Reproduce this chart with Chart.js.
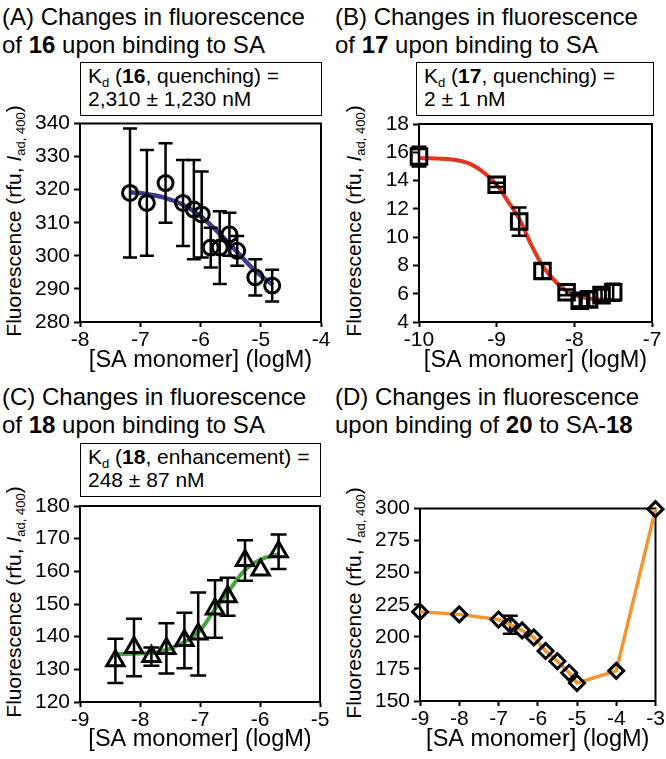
<!DOCTYPE html>
<html lang="en">
<head>
<meta charset="utf-8">
<title>Changes in fluorescence upon binding to SA</title>
<script src="https://cdn.jsdelivr.net/npm/chart.js@4.4.1/dist/chart.umd.min.js"></script>
<style>
    html, body { margin: 0; padding: 0; background: #fff; }
    body { width: 666px; height: 759px; position: relative; overflow: hidden; font-family: "Liberation Sans", Arial, sans-serif; color: #000; }
    .title { position: absolute; font-size: 24px; line-height: 28px; white-space: nowrap; }
    .kd { position: absolute; box-sizing: border-box; border: 1.5px solid #000; font-size: 21px; line-height: 23px; padding: 1px 0 0 7px; white-space: nowrap; }
    .kd sub { font-size: 13px; line-height: 0; vertical-align: -4px; }
    .ylab { position: absolute; font-size: 21px; line-height: 24px; white-space: nowrap; transform: translate(-50%, -50%) rotate(-90deg); }
    .ylab sub { font-size: 13px; line-height: 0; vertical-align: -4px; }
    canvas { position: absolute; }
</style>
</head>
<body>

<div class="title" style="left:2px;top:3px">(A) Changes in fluorescence<br>of <b>16</b> upon binding to SA</div>
<div class="title" style="left:335px;top:3px">(B) Changes in fluorescence<br>of <b>17</b> upon binding to SA</div>
<div class="title" style="left:2px;top:383px">(C) Changes in fluorescence<br>of <b>18</b> upon binding to SA</div>
<div class="title" style="left:335px;top:383px">(D) Changes in fluorescence<br>upon binding of <b>20</b> to SA-<b>18</b></div>

<div class="kd" style="left:80px;top:62px;width:242px;height:54px">K<sub>d</sub> (<b>16</b>, quenching) =<br>2,310 ± 1,230 nM</div>
<div class="kd" style="left:416px;top:62px;width:238px;height:54px">K<sub>d</sub> (<b>17</b>, quenching) =<br>2 ± 1 nM</div>
<div class="kd" style="left:80px;top:443px;width:241px;height:54px">K<sub>d</sub> (<b>18</b>, enhancement) =<br>248 ± 87 nM</div>

<div class="ylab" style="left:14px;top:221px">Fluorescence (rfu, <i>I</i><sub>ad, 400</sub>)</div>
<div class="ylab" style="left:354px;top:221px">Fluorescence (rfu, <i>I</i><sub>ad, 400</sub>)</div>
<div class="ylab" style="left:14px;top:602px">Fluorescence (rfu, <i>I</i><sub>ad, 400</sub>)</div>
<div class="ylab" style="left:354px;top:603px">Fluorescence (rfu, <i>I</i><sub>ad, 400</sub>)</div>

<canvas id="chartA" width="333" height="270" style="left:0;top:110px"></canvas>
<canvas id="chartB" width="333" height="270" style="left:333px;top:110px"></canvas>
<canvas id="chartC" width="333" height="269" style="left:0;top:490px"></canvas>
<canvas id="chartD" width="333" height="269" style="left:333px;top:490px"></canvas>

<script>
// Painel A: 16 (quenching)
const xA = [-7.17, -6.89, -6.58, -6.29, -6.11, -5.98, -5.83, -5.68, -5.52, -5.39, -5.09, -4.81];
const yA = [319, 316, 322, 316, 314, 312.5, 302.5, 302.5, 306.5, 301.5, 293.5, 291];
const errA = [19.5, 16, 12, 13, 15, 13, 6, 11, 6.5, 4.5, 5.5, 4.8];
const fitXA = [-7.17, -6.9, -6.6, -6.3, -6.0, -5.7, -5.4, -5.1, -4.8];
const fitYA = [319.2, 318.7, 317.6, 315.5, 312, 307, 301.3, 295.6, 291.2];
const ticksXA = [-8, -7, -6, -5, -4];
const ticksYA = [280, 290, 300, 310, 320, 330, 340];

// Painel B: 17 (quenching)
const xB = [-10, -9, -8.71, -8.41, -8.1, -7.93, -7.81, -7.65, -7.5];
const yB = [15.7, 13.7, 11.1, 7.6, 6.1, 5.5, 5.6, 5.9, 6.1];
const errB = [0.7, 0.15, 1.0, 0.5, 0.2, 0.4, 0.5, 0.4, 0.6];
const fitXB = [-10, -9.6, -9.35, -9.15, -9.0, -8.85, -8.7, -8.55, -8.4, -8.25, -8.1, -7.9, -7.7, -7.5];
const fitYB = [15.6, 15.5, 15.2, 14.5, 13.7, 12.5, 11.2, 9.4, 7.9, 6.9, 6.2, 5.75, 5.6, 5.55];
const ticksXB = [-10, -9, -8, -7];
const ticksYB = [4, 6, 8, 10, 12, 14, 16, 18];

// Painel C: 18 (enhancement)
const xC = [-8.41, -8.10, -7.81, -7.56, -7.26, -7.03, -6.75, -6.54, -6.25, -5.99, -5.69];
const yC = [132.6, 136.7, 133.9, 136.4, 138.8, 140.8, 148.5, 152.2, 163.3, 160.4, 166];
const errC = [6.8, 8.8, 2.8, 7.7, 8.5, 12.7, 8.8, 5.8, 6.2, 0, 5.3];
const fitXC = [-8.4, -7.8, -7.5, -7.2, -6.98, -6.76, -6.54, -6.26, -5.98, -5.68];
const fitYC = [134.7, 135, 136.3, 139, 142.3, 148.2, 153.5, 160.2, 163.7, 165.3];
const ticksXC = [-9, -8, -7, -6, -5];
const ticksYC = [120, 130, 140, 150, 160, 170, 180];

// Painel D: 20 binding to SA-18
const xD = [-9, -8, -7, -6.7, -6.4, -6.1, -5.8, -5.5, -5.2, -5, -4, -3];
const yD = [219.5, 217.5, 213.5, 209.5, 205, 199.5, 189, 181, 172, 164, 173.5, 299.5];
const errD = [0, 0, 0, 7, 0, 0, 0, 0, 0, 0, 0, 0];
const ticksXD = [-9, -8, -7, -6, -5, -4, -3];
const ticksYD = [150, 175, 200, 225, 250, 275, 300];

const FONT = '"Liberation Sans", Arial, sans-serif';
Chart.defaults.font.family = FONT;
Chart.defaults.color = '#000';

function toPoints(xs, ys) {
    return xs.map((x, i) => ({ x: x, y: ys[i] }));
}

// Barras de erro desenhadas antes dos marcadores
const errorBars = {
    id: 'errorBars',
    beforeDatasetDraw(chart, args) {
        const ds = chart.data.datasets[args.index];
        if (!ds.errs) return;
        const ctx = chart.ctx;
        const x = chart.scales.x, y = chart.scales.y;
        const w = ds.capHalf || 7;
        ctx.save();
        ctx.strokeStyle = '#000';
        ctx.lineWidth = 2.5;
        ds.data.forEach((p, i) => {
            const e = ds.errs[i];
            if (!e) return;
            const px = x.getPixelForValue(p.x);
            const top = y.getPixelForValue(p.y + e);
            const bot = y.getPixelForValue(p.y - e);
            ctx.beginPath();
            ctx.moveTo(px, top); ctx.lineTo(px, bot);
            ctx.moveTo(px - w, top); ctx.lineTo(px + w, top);
            ctx.moveTo(px - w, bot); ctx.lineTo(px + w, bot);
            ctx.stroke();
        });
        ctx.restore();
    }
};

// Moldura completa da area do grafico
const frame = {
    id: 'frame',
    beforeDatasetsDraw(chart) {
        const a = chart.chartArea;
        const ctx = chart.ctx;
        ctx.save();
        ctx.strokeStyle = '#000';
        ctx.lineWidth = 2;
        ctx.strokeRect(a.left, a.top, a.right - a.left, a.bottom - a.top);
        ctx.restore();
    }
};

function axis(ticks, horizontal, canvas, area, title) {
    const opts = {
        type: 'linear',
        min: ticks[0],
        max: ticks[ticks.length - 1],
        afterBuildTicks: s => { s.ticks = ticks.map(v => ({ value: v })); },
        grid: { display: true, drawOnChartArea: false, drawTicks: true, tickLength: horizontal ? 5 : 6, tickWidth: 2, tickColor: '#000' },
        border: { display: true, color: '#000', width: 2 },
        ticks: { font: { size: 21 }, color: '#000', padding: horizontal ? 1 : 4, maxRotation: 0, autoSkip: false }
    };
    if (horizontal) {
        opts.title = { display: true, text: title, font: { size: 23.5 }, color: '#000', padding: { top: 0, bottom: 5 } };
        opts.afterFit = s => {
            s.height = canvas.height - area.bottom;
            s.paddingLeft = 0; s.paddingRight = 0;
        };
    } else {
        opts.afterFit = s => {
            s.width = area.left;
            s.paddingTop = 0; s.paddingBottom = 0;
        };
    }
    return opts;
}

function makePanel(id, area, xTicks, yTicks, datasets) {
    const canvas = document.getElementById(id);
    return new Chart(canvas.getContext('2d'), {
        type: 'scatter',
        data: { datasets: datasets },
        options: {
            responsive: false,
            animation: false,
            events: [],
            layout: { padding: { left: 0, top: area.top, right: canvas.width - area.right, bottom: 0 } },
            plugins: { legend: { display: false }, tooltip: { enabled: false } },
            scales: {
                x: axis(xTicks, true, canvas, area, '[SA monomer] (logM)'),
                y: axis(yTicks, false, canvas, area)
            }
        },
        plugins: [frame, errorBars]
    });
}

function markers(xs, ys, errs, style, radius, capHalf) {
    return {
        data: toPoints(xs, ys),
        errs: errs,
        capHalf: capHalf,
        showLine: false,
        pointStyle: style,
        pointRadius: radius,
        pointBorderColor: '#000',
        pointBorderWidth: 3,
        pointBackgroundColor: 'rgba(0,0,0,0)',
        clip: false
    };
}

function fitCurve(xs, ys, color, width) {
    return {
        data: toPoints(xs, ys),
        showLine: true,
        borderColor: color,
        borderWidth: width,
        pointRadius: 0,
        cubicInterpolationMode: 'monotone',
        clip: false
    };
}

document.addEventListener('DOMContentLoaded', function() {
    makePanel('chartA', { left: 80, right: 321, top: 13.5, bottom: 212 }, ticksXA, ticksYA, [
        markers(xA, yA, errA, 'circle', 7.5, 7),
        fitCurve(fitXA, fitYA, '#3c3c8e', 4.5)
    ]);

    makePanel('chartB', { left: 86, right: 325, top: 13.5, bottom: 212 }, ticksXB, ticksYB, [
        markers(xB, yB, errB, 'rect', 11, 7.5),
        fitCurve(fitXB, fitYB, '#e2361e', 4)
    ]);

    makePanel('chartC', { left: 80, right: 321, top: 16, bottom: 212 }, ticksXC, ticksYC, [
        markers(xC, yC, errC, 'triangle', 10, 8),
        fitCurve(fitXC, fitYC, '#46a53a', 4)
    ]);

    const dLine = markers(xD, yD, errD, 'rectRot', 7.5, 7.5);
    dLine.showLine = true;
    dLine.borderColor = '#f39530';
    dLine.borderWidth = 3.5;
    dLine.tension = 0;
    makePanel('chartD', { left: 87, right: 324, top: 18.5, bottom: 211 }, ticksXD, ticksYD, [dLine]);
});
</script>
</body>
</html>
